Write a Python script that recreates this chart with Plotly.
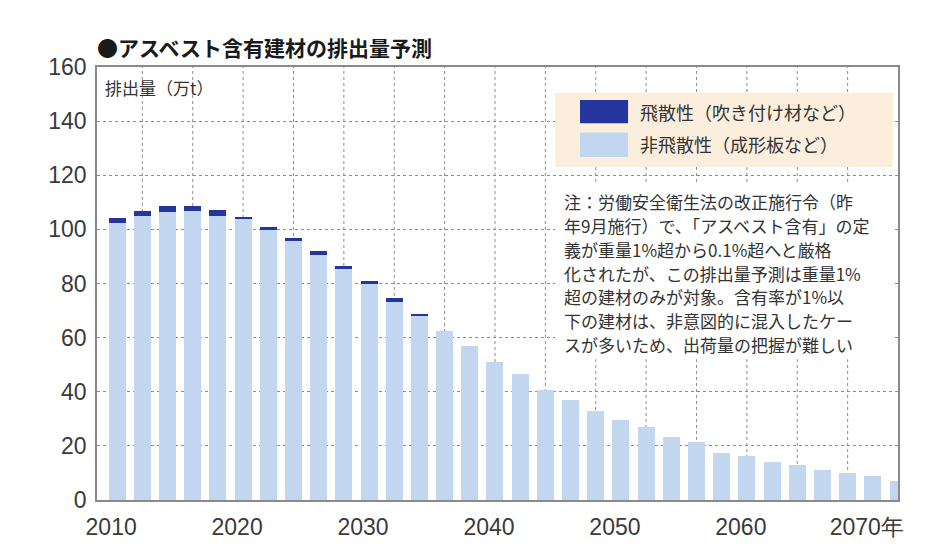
import plotly.graph_objects as go

years = list(range(2010, 2074, 2))
total = [104.3, 106.9, 108.7, 108.7, 107.1, 104.7, 101.0, 96.7, 92.0, 86.3,
         80.8, 74.5, 68.7, 62.4, 56.8, 51.0, 46.4, 40.7, 36.8, 32.9,
         29.5, 26.8, 23.4, 21.4, 17.4, 16.3, 14.1, 12.9, 11.1, 9.9,
         8.7, 7.2]
flying = [1.8, 2.0, 2.4, 1.8, 2.1, 0.8, 1.4, 1.1, 1.5, 0.9,
          0.8, 1.2, 0.5, 0, 0, 0, 0, 0, 0, 0,
          0, 0, 0, 0, 0, 0, 0, 0, 0, 0,
          0, 0]
nonflying = [round(t - f, 1) for t, f in zip(total, flying)]

label_years = [2010, 2020, 2030, 2040, 2050, 2060, 2070]
label_text = ["2010", "2020", "2030", "2040", "2050", "2060", "2070年"]
grid_years = list(range(2012, 2072, 4))
y_ticks = list(range(0, 161, 20))

title = "●アスベスト含有建材の排出量予測"
ylab = "排出量（万t）"
leg1 = "飛散性（吹き付け材など）"
leg2 = "非飛散性（成形板など）"
note_lines = [
    "注：労働安全衛生法の改正施行令（昨",
    "年9月施行）で、「アスベスト含有」の定",
    "義が重量1%超から0.1%超へと厳格",
    "化されたが、この排出量予測は重量1%",
    "超の建材のみが対象。含有率が1%以",
    "下の建材は、非意図的に混入したケー",
    "スが多いため、出荷量の把握が難しい",
]

DARK = "#25359c"
LIGHT = "#c3d6ef"
GRID = "#8c8c8c"
CJK = "Noto Sans CJK JP"
XR = [2008.4, 2072.0]
PLOT_H = 552 - 67 - 48

fig = go.Figure()
fig.add_trace(go.Bar(x=years, y=nonflying, marker=dict(color=LIGHT, line=dict(width=0)),
                     width=1.35, name=leg2))
fig.add_trace(go.Bar(x=years, y=flying, marker=dict(color=DARK, line=dict(width=0)),
                     width=1.35, name=leg1))

fig.update_layout(
    width=938, height=552,
    margin=dict(l=97, r=40, t=67, b=48),
    barmode="stack",
    showlegend=False,
    plot_bgcolor="white",
    paper_bgcolor="white",
    font=dict(family=CJK, color="#333"),
    xaxis=dict(range=XR, tickmode="array", tickvals=label_years, ticktext=label_text,
               ticks="", showgrid=False, zeroline=False,
               showline=True, linecolor="#8a8a8a", linewidth=1.5, mirror=True,
               tickfont=dict(family="Liberation Sans", size=23, color="#3a3a3a"),
               ticklabelshift=-6, ticklabelstandoff=6),
    yaxis=dict(range=[0, 160], tickmode="array", tickvals=y_ticks, ticks="",
               showgrid=True, gridcolor=GRID, griddash="dot", gridwidth=1,
               zeroline=False, showline=True, linecolor="#8a8a8a", linewidth=1.5, mirror=True,
               tickfont=dict(family="Liberation Sans", size=23, color="#3a3a3a"),
               ticklabelstandoff=4),
)

shapes = [
    dict(type="line", xref="x", yref="paper", x0=g, x1=g, y0=0, y1=1,
         line=dict(color=GRID, width=1, dash="dot"), layer="between")
    for g in grid_years
]
shapes += [
    dict(type="rect", xref="paper", yref="paper", x0=0.5718, x1=0.9938, y0=0.7689, y1=0.9405,
         fillcolor="#fbeedd", line=dict(width=0), layer="above"),
    dict(type="rect", xref="paper", yref="paper", x0=0.603, x1=0.663, y0=0.870, y1=0.924,
         fillcolor=DARK, line=dict(width=0), layer="above"),
    dict(type="rect", xref="paper", yref="paper", x0=0.603, x1=0.663, y0=0.792, y1=0.849,
         fillcolor=LIGHT, line=dict(width=0), layer="above"),
    dict(type="rect", xref="paper", yref="paper", x0=0.5718, x1=0.9938, y0=0.325, y1=0.730,
         fillcolor="white", line=dict(width=0), layer="above"),
]
fig.update_layout(shapes=shapes)

ann = [
    dict(text="<b>" + title + "</b>", xref="paper", yref="paper", x=-0.003, y=1.046,
         xanchor="left", yanchor="middle", showarrow=False,
         font=dict(family=CJK, size=21, color="#1a1a1a")),
    dict(text=ylab, xref="paper", yref="paper", x=0.008, y=0.952,
         xanchor="left", yanchor="middle", showarrow=False,
         font=dict(family=CJK, size=17, color="#333")),
    dict(text=leg1, xref="paper", yref="paper", x=0.676, y=0.897,
         xanchor="left", yanchor="middle", showarrow=False,
         font=dict(family=CJK, size=18, color="#333")),
    dict(text=leg2, xref="paper", yref="paper", x=0.676, y=0.8215,
         xanchor="left", yanchor="middle", showarrow=False,
         font=dict(family=CJK, size=18, color="#333")),
]
for i, line in enumerate(note_lines):
    ypix = 203 + 24 * i
    ann.append(dict(text=line, xref="paper", yref="paper", x=0.580,
                    y=(504 - ypix) / PLOT_H, xanchor="left", yanchor="middle",
                    showarrow=False, font=dict(family=CJK, size=17, color="#333")))
fig.update_layout(annotations=ann)

fig.write_html("out.html")
